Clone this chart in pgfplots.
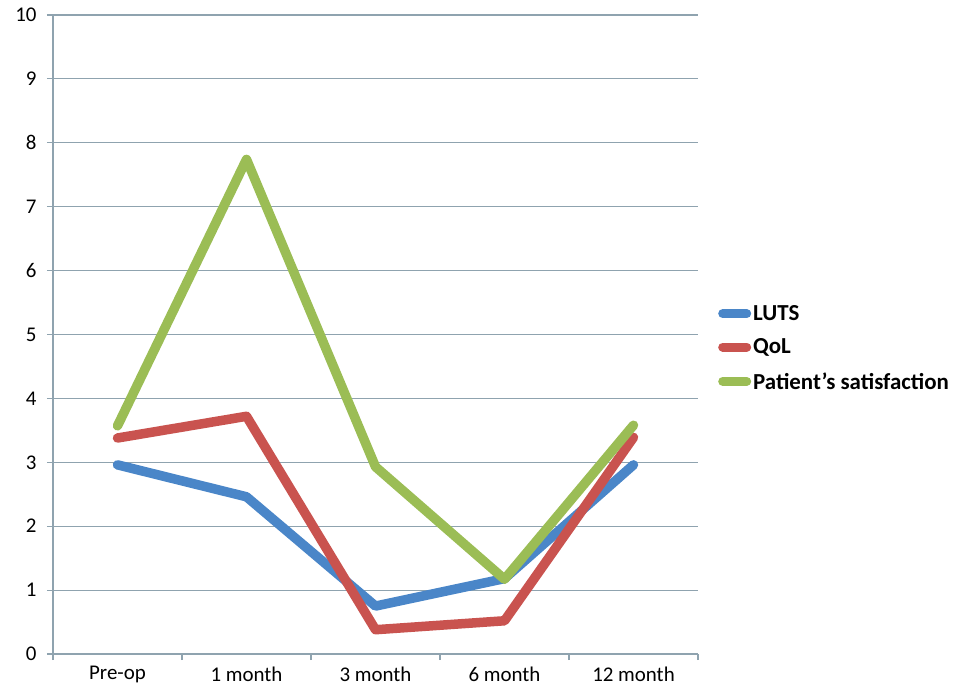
\documentclass[border=0pt]{standalone}
\usepackage{fontspec}
\setmainfont{Carlito}
\usepackage{pgfplots}
\pgfplotsset{compat=1.18}
\definecolor{gridc}{HTML}{8FA3AF}
\definecolor{luts}{HTML}{4A86C8}
\definecolor{qol}{HTML}{C9534F}
\definecolor{sat}{HTML}{9BBD55}
\begin{document}
\begin{tikzpicture}
\useasboundingbox (-53bp,-38bp) rectangle (906bp,654bp);
\begin{axis}[
  at={(0,0)}, anchor=south west,
  scale only axis, width=645bp, height=639bp,
  xmin=-0.5, xmax=4.5, ymin=0, ymax=10,
  xtick={-0.5,0.5,1.5,2.5,3.5,4.5},
  x tick label as interval,
  xticklabels={Pre-op,1 month,3 month,6 month,12 month},
  ytick={0,1,...,10},
  axis x line*=bottom, axis y line*=left,
  axis line style={draw=gridc, line width=1.2bp, -},
  tick style={draw=gridc, line width=1.2bp},
  tick align=outside, major tick length=6bp,
  ymajorgrids, grid style={draw=gridc, line width=1.2bp},
  /pgf/number format/assume math mode=true,
  tick label style={font=\fontsize{21}{24}\selectfont, text=black},
  yticklabel style={xshift=-7bp},
  xticklabel style={yshift=-3bp},
  legend style={at={(rel axis cs:1.031,0.479)}, anchor=west, draw=none, fill=none,
    font=\fontsize{23}{26}\selectfont\bfseries, row sep=13bp, inner sep=0pt,
    /tikz/every even column/.style={column sep=0pt}},
  legend cell align=left,
  legend image code/.code={\draw[#1, line width=9bp, line cap=round] (0bp,0bp) -- (24bp,0bp);},
  every axis plot/.append style={line width=9.5bp, line join=round, line cap=round},
]
\addplot[luts] coordinates {(0,2.96) (1,2.46) (2,0.75) (3,1.18) (4,2.96)};
\addlegendentry{LUTS}
\addplot[qol] coordinates {(0,3.38) (1,3.72) (2,0.38) (3,0.52) (4,3.39)};
\addlegendentry{QoL}
\addplot[sat] coordinates {(0,3.57) (1,7.74) (2,2.93) (3,1.17) (4,3.58)};
\addlegendentry{Patient’s satisfaction}
\end{axis}
\end{tikzpicture}
\end{document}
